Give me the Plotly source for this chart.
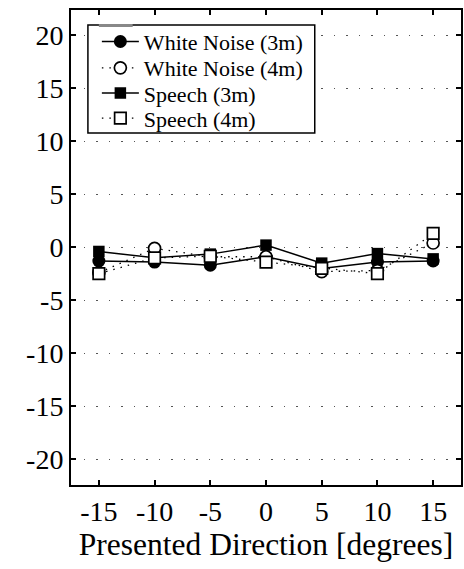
import plotly.graph_objects as go

directions = [-15, -10, -5, 0, 5, 10, 15]
wn_3m = [-1.3, -1.4, -1.7, -0.9, -2.0, -1.4, -1.3]
wn_4m = [-2.4, -0.1, -0.9, -0.9, -2.3, -2.2, 0.4]
sp_3m = [-0.4, -1.0, -0.65, 0.2, -1.5, -0.6, -1.1]
sp_4m = [-2.5, -1.0, -0.85, -1.4, -2.0, -2.5, 1.3]

y_ticks = [-20, -15, -10, -5, 0, 5, 10, 15, 20]
x_ticks = [-15, -10, -5, 0, 5, 10, 15]

SERIF = "Liberation Serif, Times New Roman, Times, serif"

fig = go.Figure()
fig.add_trace(go.Scatter(x=directions, y=wn_3m, name="White Noise (3m)", mode="lines+markers",
                         line=dict(color="black", width=1.5),
                         marker=dict(symbol="circle", size=13, color="black"),
                         legend="legend"))
fig.add_trace(go.Scatter(x=directions, y=wn_4m, name="White Noise (4m)", mode="lines+markers",
                         line=dict(color="black", width=1.3, dash="1.5px,6px"),
                         marker=dict(symbol="circle", size=12, color="white",
                                     line=dict(color="black", width=1.7)),
                         legend="legend2"))
fig.add_trace(go.Scatter(x=directions, y=sp_3m, name="Speech (3m)", mode="lines+markers",
                         line=dict(color="black", width=1.5),
                         marker=dict(symbol="square", size=11.5, color="black"),
                         legend="legend3"))
fig.add_trace(go.Scatter(x=directions, y=sp_4m, name="Speech (4m)", mode="lines+markers",
                         line=dict(color="black", width=1.3, dash="1.5px,6px"),
                         marker=dict(symbol="square", size=11.5, color="white",
                                     line=dict(color="black", width=1.7)),
                         legend="legend4"))

axis_common = dict(showline=True, linecolor="black", linewidth=2, mirror="ticks",
                   ticks="inside", ticklen=5, tickcolor="black", tickwidth=1.5,
                   zeroline=False,
                   tickfont=dict(family=SERIF, size=28, color="black"))

fig.update_xaxes(range=[-17.5, 17.5], tickvals=x_ticks, ticktext=[str(v) for v in x_ticks],
                 showgrid=False,
                 title=dict(text="Presented Direction [degrees]",
                            font=dict(family=SERIF, size=31.5, color="black"),
                            standoff=5),
                 **axis_common)
fig.update_yaxes(range=[-22.45, 22.4], tickvals=y_ticks, ticktext=[str(v) for v in y_ticks],
                 showgrid=True, gridcolor="#555555", gridwidth=1, griddash="1.5px,11px",
                 **axis_common)

# plot area in pixels: x 71..463, y 10..485
def px_x(p):
    return (p - 71) / 392.0

def px_y(p):
    return (485 - p) / 475.0

row_centers = [41.7, 68.0, 93.3, 118.3]
leg_common = dict(xanchor="left", yanchor="middle", bgcolor="rgba(0,0,0,0)",
                  borderwidth=0, itemwidth=37,
                  font=dict(family=SERIF, size=22, color="black"))
legends = {}
for i, name in enumerate(["legend", "legend2", "legend3", "legend4"]):
    legends[name] = dict(x=px_x(97), y=px_y(row_centers[i]), **leg_common)

fig.update_layout(
    width=464, height=569,
    margin=dict(l=71, r=1, t=10, b=84),
    paper_bgcolor="white", plot_bgcolor="white",
    showlegend=True,
    font=dict(family=SERIF, color="black"),
    shapes=[
        dict(type="rect", xref="paper", yref="paper",
             x0=px_x(88), x1=px_x(316), y0=px_y(133), y1=px_y(25),
             line=dict(color="black", width=1.5), fillcolor="white", layer="above"),
        dict(type="line", xref="paper", yref="paper",
             x0=px_x(99), x1=px_x(133), y0=px_y(25.5), y1=px_y(25.5),
             line=dict(color="#888888", width=3), layer="above"),
    ],
    **legends,
)

fig.write_html("out.html")
